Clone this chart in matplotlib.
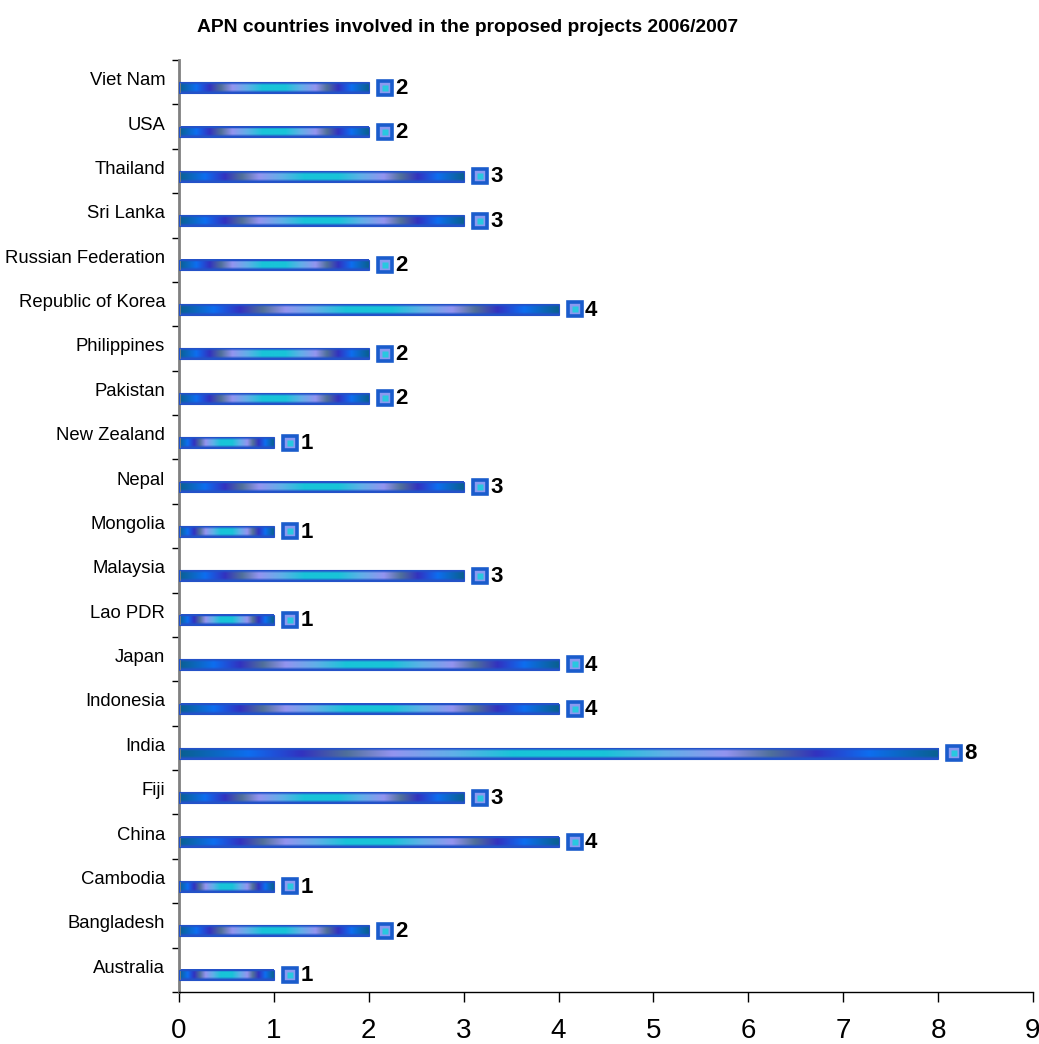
import matplotlib
matplotlib.use("Agg")
import matplotlib.pyplot as plt
import numpy as np
from matplotlib.colors import to_rgb
from matplotlib.patches import Rectangle
from matplotlib.ticker import FixedLocator

countries = ["Australia", "Bangladesh", "Cambodia", "China", "Fiji", "India",
             "Indonesia", "Japan", "Lao PDR", "Malaysia", "Mongolia", "Nepal",
             "New Zealand", "Pakistan", "Philippines", "Republic of Korea",
             "Russian Federation", "Sri Lanka", "Thailand", "USA", "Viet Nam"]
projects = [1, 2, 1, 4, 3, 8, 4, 4, 1, 3, 1, 3, 1, 2, 2, 4, 2, 3, 3, 2, 2]
x_ticks = list(range(0, 10))

plt.rcParams["font.family"] = ["Liberation Sans", "DejaVu Sans"]

# colour stops across one bar (left half, mirrored for the right)
stops = [0.00, 0.09, 0.16, 0.22, 0.28, 0.36, 0.44, 0.50]
stop_cols = ["#0a6090", "#0d6ef0", "#3232c0", "#50709a",
             "#9494f0", "#60b0e8", "#18c4d8", "#18c4d8"]


def bar_image(n=256, rows=9):
    pos = np.array(stops + [1 - s for s in reversed(stops[:-1])])
    cols = np.array([to_rgb(c) for c in stop_cols + stop_cols[-2::-1]])
    t = np.linspace(0, 1, n)
    row = np.stack([np.interp(t, pos, cols[:, k]) for k in range(3)], axis=1)
    img = np.repeat(row[None, :, :], rows, axis=0)
    # darker blue rim along top and bottom
    rim = np.array(to_rgb("#2452c8"))
    img[0] = rim
    img[-1] = rim
    img[1] = 0.5 * img[1] + 0.5 * rim
    img[-2] = 0.5 * img[-2] + 0.5 * rim
    return img


fig = plt.figure(figsize=(10.39, 10.44), dpi=100)
ax = fig.add_axes([0.1723, 0.0498, 0.8219, 0.8927])

img = bar_image()
h = 0.24
off = -0.12
for i, v in enumerate(projects):
    yc = i + off
    ax.imshow(img, extent=(0, v, yc - h / 2, yc + h / 2), aspect="auto",
              interpolation="bilinear", zorder=2)
    ax.add_patch(Rectangle((0, yc - h / 2), v, h, fill=False,
                           edgecolor="#2452c8", linewidth=0.8, zorder=3))

ys = np.arange(len(projects)) + off
xm = np.array(projects) + 0.17
ax.plot(xm, ys, "s", ms=10, mfc="#8a9af0", mec="#1a5ccc", mew=2.6,
        linestyle="none", zorder=4)
ax.plot(xm, ys, "s", ms=4.5, mfc="#28c8e0", mec="none",
        linestyle="none", zorder=5)
for x, y, v in zip(xm, ys, projects):
    ax.annotate(str(v), (x, y), xytext=(7.5, -0.5), textcoords="offset points",
                ha="left", va="center", fontsize=16,
                fontweight="bold", color="black", zorder=6)

ax.set_xlim(0, 9)
ax.set_ylim(-0.5, len(projects) - 0.5)
ax.set_xticks(x_ticks)
ax.set_xticklabels([str(t) for t in x_ticks], fontsize=20)
ax.yaxis.set_major_locator(FixedLocator(np.arange(len(countries)) + 0.08))
ax.set_yticklabels(countries, fontsize=13.3)
ax.yaxis.set_minor_locator(FixedLocator(np.arange(len(countries) + 1) - 0.5))
ax.tick_params(axis="y", which="major", length=0, pad=10)
ax.tick_params(axis="y", which="minor", length=5, width=1, color="black",
               direction="out")
ax.tick_params(axis="x", length=7, width=1, color="black",
               direction="out", pad=12)

for s in ["top", "right"]:
    ax.spines[s].set_visible(False)
ax.spines["left"].set_color("#808080")
ax.spines["left"].set_linewidth(2)
ax.spines["bottom"].set_color("black")
ax.spines["bottom"].set_linewidth(1)

fig.text(0.19, 0.974, "APN countries involved in the proposed projects 2006/2007",
         fontsize=13.9, fontweight="bold", ha="left", va="center")

fig.savefig("out.png", dpi=100)
